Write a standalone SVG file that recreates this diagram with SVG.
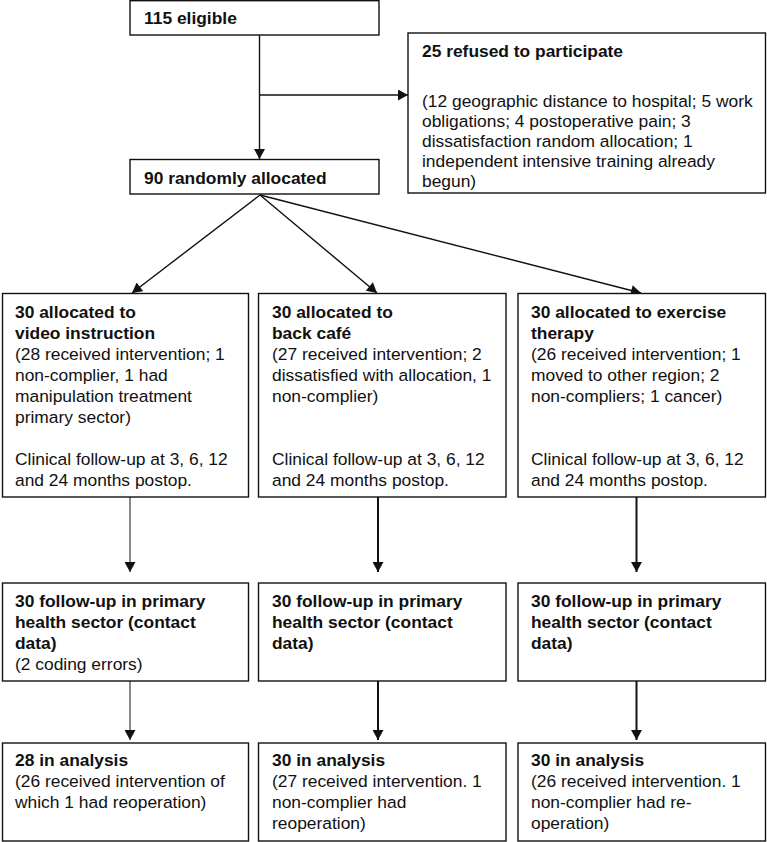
<svg xmlns="http://www.w3.org/2000/svg" width="767" height="842" viewBox="0 0 767 842">
<style>
.box{fill:#fff;stroke:#111;stroke-width:1.4}
text{font-family:"Liberation Sans",Arial,sans-serif;font-size:17.4px;fill:#111}
.b{font-weight:bold}
.c{fill:none;stroke:#111;stroke-width:1.4}
.thin{stroke-width:1}
.thick{stroke-width:2}
</style>
<defs>
<marker id="ah" markerUnits="userSpaceOnUse" markerWidth="11" markerHeight="11" refX="10" refY="5.5" orient="auto" viewBox="0 0 10 11">
<path d="M0,0 L10,5.5 L0,11 z" fill="#111"/>
</marker>
</defs>
<g id="connectors">
<line class="c" x1="259.5" y1="35" x2="259.5" y2="159" marker-end="url(#ah)"/>
<line class="c" x1="259.5" y1="95" x2="408" y2="95" marker-end="url(#ah)"/>
<line class="c" x1="260" y1="195" x2="132" y2="293" marker-end="url(#ah)"/>
<line class="c" x1="260" y1="195" x2="377" y2="293" marker-end="url(#ah)"/>
<line class="c" x1="260" y1="195" x2="641" y2="293" marker-end="url(#ah)"/>
<line class="c thin" x1="130" y1="497" x2="130" y2="572" marker-end="url(#ah)"/>
<line class="c thick" x1="378" y1="497" x2="378" y2="572" marker-end="url(#ah)"/>
<line class="c thick" x1="636.5" y1="497" x2="636.5" y2="572" marker-end="url(#ah)"/>
<line class="c thin" x1="130" y1="681" x2="130" y2="740" marker-end="url(#ah)"/>
<line class="c thick" x1="378" y1="681" x2="378" y2="740" marker-end="url(#ah)"/>
<line class="c thick" x1="636.5" y1="681" x2="636.5" y2="740" marker-end="url(#ah)"/>
</g>
<g id="eligible">
<rect class="box" x="130" y="0.7" width="249" height="34.3"/>
<text class="b" x="144" y="24">115 eligible</text>
</g>
<g id="refused">
<rect class="box" x="408" y="33" width="357.5" height="160"/>
<text class="b" x="422" y="57">25 refused to participate</text>
<text x="422" y="107">(12 geographic distance to hospital; 5 work</text>
<text x="422" y="127">obligations; 4 postoperative pain; 3</text>
<text x="422" y="147">dissatisfaction random allocation; 1</text>
<text x="422" y="167">independent intensive training already</text>
<text x="422" y="187">begun)</text>
</g>
<g id="randomized">
<rect class="box" x="130" y="159.5" width="249" height="34.5"/>
<text class="b" x="144" y="184">90 randomly allocated</text>
</g>
<g id="alloc-video">
<rect class="box" x="2.5" y="293.5" width="246" height="203.5"/>
<text class="b" x="15" y="318">30 allocated to</text>
<text class="b" x="15" y="339">video instruction</text>
<text x="15" y="360">(28 received intervention; 1</text>
<text x="15" y="381">non-complier, 1 had</text>
<text x="15" y="402">manipulation treatment</text>
<text x="15" y="423">primary sector)</text>
<text x="15" y="465">Clinical follow-up at 3, 6, 12</text>
<text x="15" y="486">and 24 months postop.</text>
</g>
<g id="alloc-cafe">
<rect class="box" x="258.5" y="293.5" width="247.5" height="203.5"/>
<text class="b" x="272" y="318">30 allocated to</text>
<text class="b" x="272" y="339">back café</text>
<text x="272" y="360">(27 received intervention; 2</text>
<text x="272" y="381">dissatisfied with allocation, 1</text>
<text x="272" y="402">non-complier)</text>
<text x="272" y="465">Clinical follow-up at 3, 6, 12</text>
<text x="272" y="486">and 24 months postop.</text>
</g>
<g id="alloc-exercise">
<rect class="box" x="518" y="293.5" width="247.5" height="203.5"/>
<text class="b" x="531" y="318">30 allocated to exercise</text>
<text class="b" x="531" y="339">therapy</text>
<text x="531" y="360">(26 received intervention; 1</text>
<text x="531" y="381">moved to other region; 2</text>
<text x="531" y="402">non-compliers; 1 cancer)</text>
<text x="531" y="465">Clinical follow-up at 3, 6, 12</text>
<text x="531" y="486">and 24 months postop.</text>
</g>
<g id="followup-video">
<rect class="box" x="2.5" y="583" width="246" height="98"/>
<text class="b" x="15" y="607">30 follow-up in primary</text>
<text class="b" x="15" y="628">health sector (contact</text>
<text class="b" x="15" y="649">data)</text>
<text x="15" y="670">(2 coding errors)</text>
</g>
<g id="followup-cafe">
<rect class="box" x="258.5" y="583" width="247.5" height="98"/>
<text class="b" x="272" y="607">30 follow-up in primary</text>
<text class="b" x="272" y="628">health sector (contact</text>
<text class="b" x="272" y="649">data)</text>
</g>
<g id="followup-exercise">
<rect class="box" x="518" y="583" width="247.5" height="98"/>
<text class="b" x="531" y="607">30 follow-up in primary</text>
<text class="b" x="531" y="628">health sector (contact</text>
<text class="b" x="531" y="649">data)</text>
</g>
<g id="analysis-video">
<rect class="box" x="2.5" y="743" width="246" height="98"/>
<text class="b" x="15" y="766">28 in analysis</text>
<text x="15" y="787">(26 received intervention of</text>
<text x="15" y="808">which 1 had reoperation)</text>
</g>
<g id="analysis-cafe">
<rect class="box" x="258.5" y="743" width="247.5" height="98"/>
<text class="b" x="272" y="766">30 in analysis</text>
<text x="272" y="787">(27 received intervention. 1</text>
<text x="272" y="808">non-complier had</text>
<text x="272" y="829">reoperation)</text>
</g>
<g id="analysis-exercise">
<rect class="box" x="518" y="743" width="247.5" height="98"/>
<text class="b" x="531" y="766">30 in analysis</text>
<text x="531" y="787">(26 received intervention. 1</text>
<text x="531" y="808">non-complier had re-</text>
<text x="531" y="829">operation)</text>
</g>
</svg>
